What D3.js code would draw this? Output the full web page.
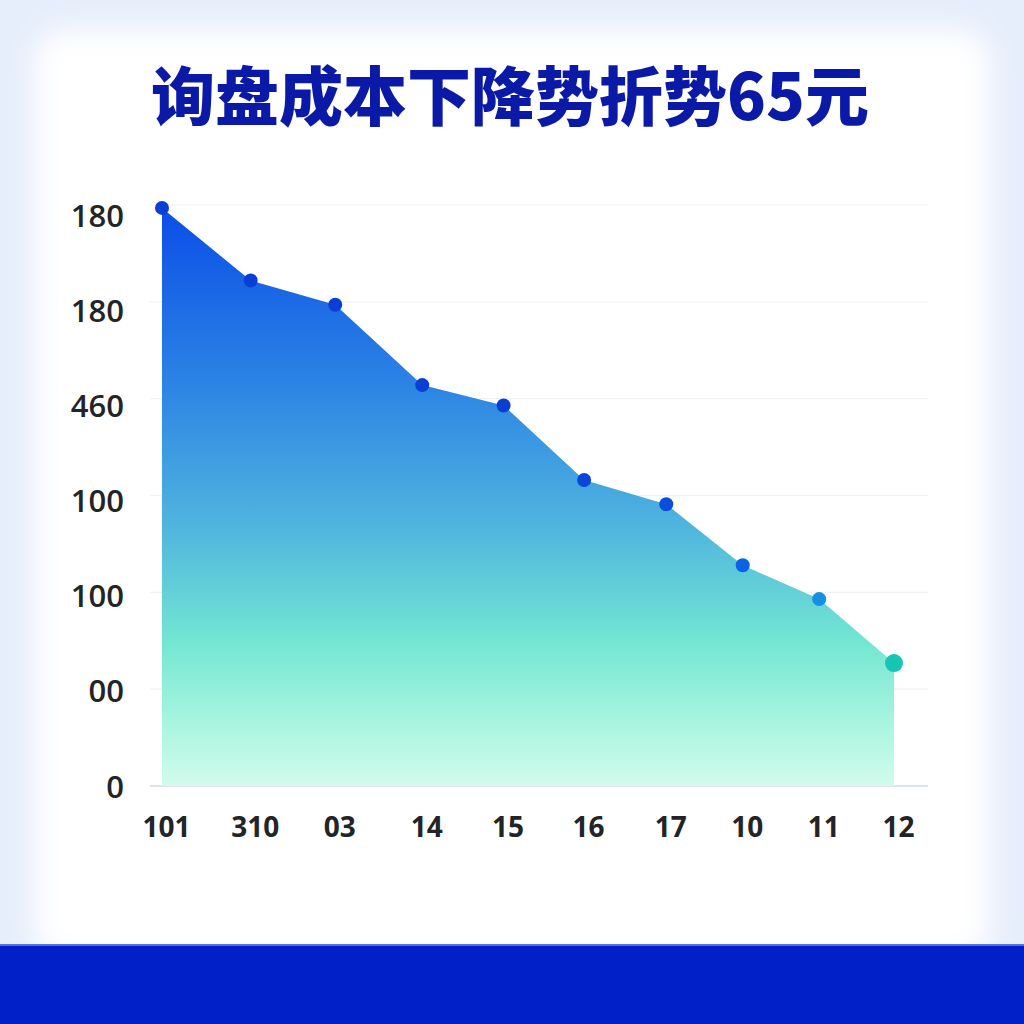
<!DOCTYPE html>
<html>
<head>
<meta charset="utf-8">
<script src="https://cdn.jsdelivr.net/npm/d3@7/dist/d3.min.js"></script>
<style>
  html, body { margin: 0; padding: 0; background: #e9f0fb; }
  svg { display: block; }
</style>
</head>
<body>
<div id="chart"></div>
<script>
// data (values are in grid steps, 0 = baseline)
const categories = ["101", "310", "03", "14", "15", "16", "17", "10", "11", "12"];
const positions = [0, 1.09, 2.13, 3.2, 4.2, 5.19, 6.2, 7.14, 8.08, 9];
const values = [5.97, 5.22, 4.97, 4.14, 3.93, 3.16, 2.91, 2.28, 1.93, 1.27];
const yTickValues = [0, 1, 2, 3, 4, 5, 6];
const yTickLabels = ["0", "00", "100", "100", "460", "180", "180"];
const dotColors = ["#0a3fd6", "#0a3fd6", "#0a3fd6", "#0a3fd6", "#0a3fd6", "#0a46dc", "#0a4ee0", "#0a62e4", "#1490e4", "#16c6b4"];
const title = "询盘成本下降势折势65元";

const width = 1024, height = 1024;

let svg = d3.select("#chart")
  .append("svg")
  .attr("width", width)
  .attr("height", height);

let defs = svg.append("defs");

let blur = defs.append("filter").attr("id", "soft")
  .attr("x", "-10%").attr("y", "-10%").attr("width", "120%").attr("height", "120%");
blur.append("feGaussianBlur").attr("stdDeviation", 14);

let areaGrad = defs.append("linearGradient")
  .attr("id", "areaGrad")
  .attr("gradientUnits", "userSpaceOnUse")
  .attr("x1", 0).attr("x2", 0).attr("y1", 205).attr("y2", 786);
areaGrad.append("stop").attr("offset", "0%").attr("stop-color", "#0a4de8");
areaGrad.append("stop").attr("offset", "30%").attr("stop-color", "#2b82e4");
areaGrad.append("stop").attr("offset", "55%").attr("stop-color", "#4fb4de");
areaGrad.append("stop").attr("offset", "75%").attr("stop-color", "#72e6d2");
areaGrad.append("stop").attr("offset", "88%").attr("stop-color", "#a4f4de");
areaGrad.append("stop").attr("offset", "100%").attr("stop-color", "#d2fbec");

// background
svg.append("rect").attr("width", width).attr("height", height).attr("fill", "#e6eefb");
svg.append("rect")
  .attr("x", 34).attr("y", 30).attr("width", 956).attr("height", 930)
  .attr("rx", 30)
  .attr("fill", "#ffffff")
  .attr("filter", "url(#soft)");

// bottom band
svg.append("rect")
  .attr("x", 0).attr("y", 944).attr("width", width).attr("height", 80)
  .attr("fill", "#0220c8");
svg.append("rect")
  .attr("x", 0).attr("y", 944).attr("width", width).attr("height", 2)
  .attr("fill", "#5570dc");

// title
svg.append("text")
  .attr("x", 510)
  .attr("y", 120)
  .attr("text-anchor", "middle")
  .style("font-family", "'Noto Sans CJK SC', sans-serif")
  .style("font-weight", 900)
  .style("font-size", "64px")
  .style("fill", "#0a1aa6")
  .text(title);

// scales
let x = d3.scaleLinear()
  .domain([0, 9])
  .range([162, 894]);

let y = d3.scaleLinear()
  .domain([0, 6])
  .range([786, 205]);

// grid
svg.append("g")
  .selectAll("line")
  .data(yTickValues)
  .enter()
  .append("line")
  .attr("x1", 150)
  .attr("x2", 928)
  .attr("y1", d => y(d))
  .attr("y2", d => y(d))
  .attr("stroke", d => d === 0 ? "#dfe4ea" : "#f1f2f4")
  .attr("stroke-width", d => d === 0 ? 2 : 1.2);

// area
let areaGen = d3.area()
  .x((d, i) => x(positions[i]))
  .y0(y(0))
  .y1(d => y(d));

svg.append("path")
  .datum(values)
  .attr("d", areaGen)
  .attr("fill", "url(#areaGrad)");

// dots
svg.append("g")
  .selectAll("circle")
  .data(values)
  .enter()
  .append("circle")
  .attr("cx", (d, i) => x(positions[i]))
  .attr("cy", d => y(d))
  .attr("r", (d, i) => i === values.length - 1 ? 9 : 7)
  .attr("fill", (d, i) => dotColors[i]);

// y labels
let yAxis = d3.axisLeft(y)
  .tickValues(yTickValues)
  .tickFormat((d, i) => yTickLabels[i])
  .tickSize(0)
  .tickPadding(0);

let yg = svg.append("g")
  .attr("transform", "translate(124,0)")
  .call(yAxis);
yg.select(".domain").remove();
yg.selectAll("text")
  .attr("y", d => d * 10 / 6)
  .attr("dy", "0.36em")
  .style("font-family", "'Open Sans', 'Noto Sans', sans-serif")
  .style("font-weight", 600)
  .style("font-size", "31px")
  .style("fill", "#222428");

// x labels
let xAxis = d3.axisBottom(x)
  .tickValues(positions)
  .tickFormat((d, i) => categories[i])
  .tickSize(0)
  .tickPadding(0);

let xg = svg.append("g")
  .attr("transform", "translate(4,812)")
  .call(xAxis);
xg.select(".domain").remove();
xg.selectAll("text")
  .attr("dy", "0.9em")
  .style("font-family", "'Open Sans', 'Noto Sans', sans-serif")
  .style("font-weight", 700)
  .style("font-size", "28px")
  .style("fill", "#222428");
</script>
</body>
</html>
